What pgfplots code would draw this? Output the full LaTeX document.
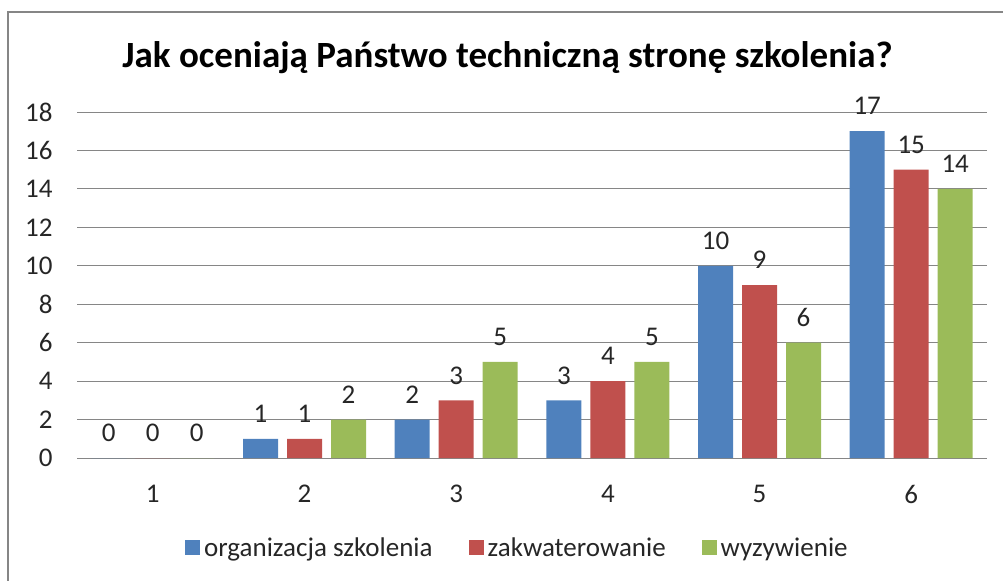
\documentclass[border=0pt]{standalone}
\usepackage{pgfplots}
\pgfplotsset{compat=1.18}
\usepackage{fontspec}
\setmainfont{Carlito}
\definecolor{cblue}{HTML}{4F81BD}
\definecolor{cred}{HTML}{C0504D}
\definecolor{cgreen}{HTML}{9BBB59}
\definecolor{cgrid}{HTML}{868686}
\definecolor{ctext}{HTML}{262626}
\begin{document}
\begin{tikzpicture}[x=1bp,y=1bp]
\useasboundingbox (0,0) rectangle (1003,-581);
\draw[cgrid, line width=1.5bp] (8,-600) -- (8,-12) -- (1020,-12);
\node[anchor=base, font=\fontsize{37bp}{44bp}\selectfont\bfseries] at (507.5,-68) {Jak oceniają Państwo techniczną stronę szkolenia?};
\begin{axis}[
  at={(77bp,-458bp)}, anchor=south west,
  scale only axis, width=910bp, height=346bp,
  ybar=9bp, bar width=35bp,
  xmin=0.5, xmax=6.5, ymin=0, ymax=18,
  xtick={1,2,3,4,5,6}, ytick={0,2,...,18},
  /pgf/number format/assume math mode=true,
  tick label style={font=\fontsize{27bp}{32bp}\selectfont, text=ctext},
  xticklabel style={anchor=center, yshift=-36bp},
  yticklabel style={anchor=east, xshift=-21bp},
  major tick length=0pt,
  axis x line*=bottom, axis y line*=left,
  y axis line style={draw=none},
  x axis line style={cgrid, line width=1bp, -},
  ymajorgrids, grid style={cgrid, line width=1bp},
  clip=false,
  nodes near coords,
  every node near coord/.append style={font=\fontsize{27bp}{32bp}\selectfont, text=ctext, anchor=center, yshift=25bp},
  legend columns=3,
  legend style={draw=none, fill=none, at={(0.484,-0.26)}, anchor=center,
    font=\fontsize{27bp}{32bp}\selectfont, text=ctext,
    /tikz/every odd column/.append style={column sep=2bp},
    /tikz/every even column/.append style={column sep=34bp}},
  legend image code/.code={\fill[#1] (0bp,-7.5bp) rectangle (15bp,7.5bp);},
]
\addplot[fill=cblue, draw=none] coordinates {(1,0) (2,1) (3,2) (4,3) (5,10) (6,17)};
\addplot[fill=cred, draw=none] coordinates {(1,0) (2,1) (3,3) (4,4) (5,9) (6,15)};
\addplot[fill=cgreen, draw=none] coordinates {(1,0) (2,2) (3,5) (4,5) (5,6) (6,14)};
\legend{organizacja szkolenia, zakwaterowanie, wyzywienie}
\end{axis}
\end{tikzpicture}
\end{document}
